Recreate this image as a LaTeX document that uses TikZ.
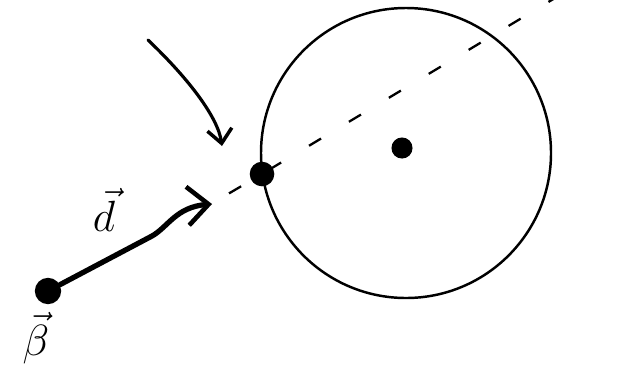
\documentclass[tikz,border=0pt]{standalone}
\usetikzlibrary{arrows.meta}
\tikzset{
  dot/.style={circle,fill=black,inner sep=0pt,minimum size=12pt},
  bigdot/.style={circle,fill=black,inner sep=0pt,minimum size=14pt},
  strokes/.style={line width=1.4pt,line cap=round},
  bigtext/.style={font=\fontsize{40}{40}\selectfont}
}
\begin{document}
\begin{tikzpicture}[x=0.02cm,y=-0.02cm]
        \useasboundingbox (0,0) rectangle (641,369);
        \draw[strokes] (406,153) circle (145);
        \node[bigdot] (hit) at (262,174) {};
        \node[dot] (centre) at (402,148) {};
        \node[dot,minimum size=15pt] (start) at (48,291) {};
        \coordinate (rayback) at (229,193.4);
        \coordinate (rayend) at (566,-8.6);
        \coordinate (tip) at (212,204);
        \coordinate (note) at (148,40);
        \coordinate (notetip) at (222,146);
        \node[bigtext] (dlabel) at (104,210) {$\vec{d}$};
        \node[bigtext] (blabel) at (36,338) {$\vec{\beta}$};
        \draw[line width=1.3pt,dash pattern=on 8pt off 18.5pt] (rayback) -- (hit.center) -- (rayend);
        \draw[line width=3pt,line cap=round,line join=round,-{Straight Barb[length=12pt,width=22pt,line width=2.6pt]}] (start) -- (152,236) .. controls (168,227) and (176,207) .. (tip);
        \draw[line width=1.8pt,line cap=round,-{Straight Barb[length=8pt,width=14pt,line width=2pt]}] (note) .. controls (190,80) and (218,118) .. (notetip);
        % \draw[red] (0,0) rectangle (641,369);
\end{tikzpicture}
\end{document}
